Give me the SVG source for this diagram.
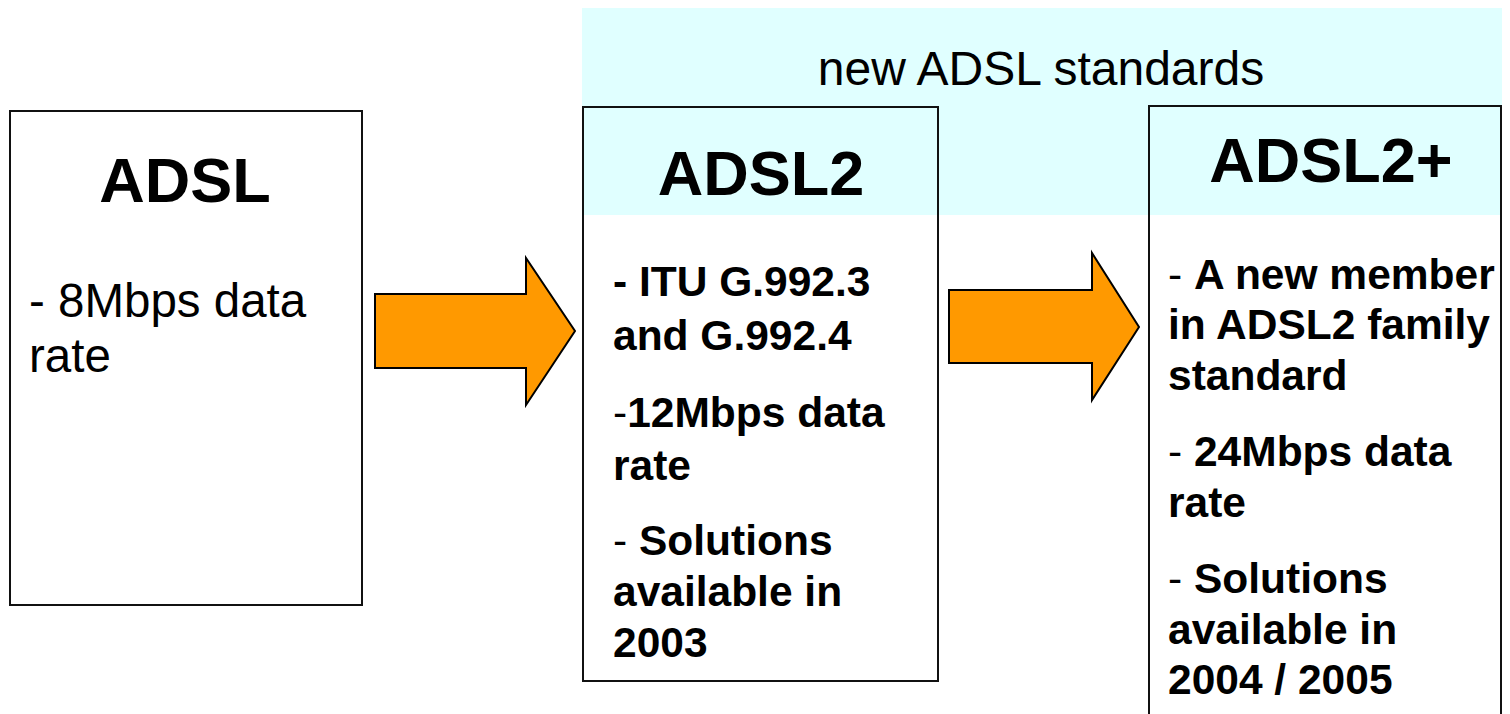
<svg xmlns="http://www.w3.org/2000/svg" width="1510" height="714" viewBox="0 0 1510 714">
<style>
.box{fill:none;stroke:#111;stroke-width:2}
.t{font-family:"Liberation Sans",Arial,sans-serif;fill:#000}
.title{font-size:63px;font-weight:bold;text-anchor:middle}
.reg{font-size:47.5px}
.b{font-size:42.5px;font-weight:bold}
.r{font-weight:normal}
.arrow{fill:#FF9900;stroke:#000;stroke-width:2;stroke-linejoin:miter}
</style>
<rect x="0" y="0" width="1510" height="714" fill="#fff"/>
<g id="group-new-adsl">
<rect x="582" y="8" width="920" height="207" fill="#E0FFFF"/>
<text class="t" x="1041" y="85" font-size="48" text-anchor="middle">new ADSL standards</text>
</g>
<g id="node-adsl">
<rect class="box" x="10" y="111" width="352" height="494"/>
<text class="t title" x="185" y="202">ADSL</text>
<text class="t reg" x="29" y="317">- 8Mbps data</text>
<text class="t reg" x="29" y="372">rate</text>
</g>
<g id="node-adsl2">
<rect class="box" x="583" y="107" width="355" height="574"/>
<text class="t title" x="761" y="195">ADSL2</text>
<text class="t b" x="613" y="296">- ITU G.992.3</text>
<text class="t b" x="613" y="350">and G.992.4</text>
<text class="t b" x="613" y="427"><tspan class="r">-</tspan>12Mbps data</text>
<text class="t b" x="613" y="480">rate</text>
<text class="t b" x="613" y="555"><tspan class="r">- </tspan>Solutions</text>
<text class="t b" x="613" y="606">available in</text>
<text class="t b" x="613" y="657">2003</text>
</g>
<g id="node-adsl2plus">
<rect class="box" x="1149" y="106" width="352" height="630"/>
<text class="t title" x="1331" y="182">ADSL2+</text>
<text class="t b" x="1168" y="289"><tspan class="r">- </tspan>A new member</text>
<text class="t b" x="1168" y="339">in ADSL2 family</text>
<text class="t b" x="1168" y="390">standard</text>
<text class="t b" x="1168" y="466"><tspan class="r">- </tspan>24Mbps data</text>
<text class="t b" x="1168" y="517">rate</text>
<text class="t b" x="1168" y="593"><tspan class="r">- </tspan>Solutions</text>
<text class="t b" x="1168" y="644">available in</text>
<text class="t b" x="1168" y="694">2004 / 2005</text>
</g>
<g id="connectors">
<polygon class="arrow" points="375,294 526,294 526,258 575,331 526,405 526,368 375,368"/>
<polygon class="arrow" points="949,290 1092,290 1092,253 1139,327 1092,400 1092,363 949,363"/>
</g>
</svg>
